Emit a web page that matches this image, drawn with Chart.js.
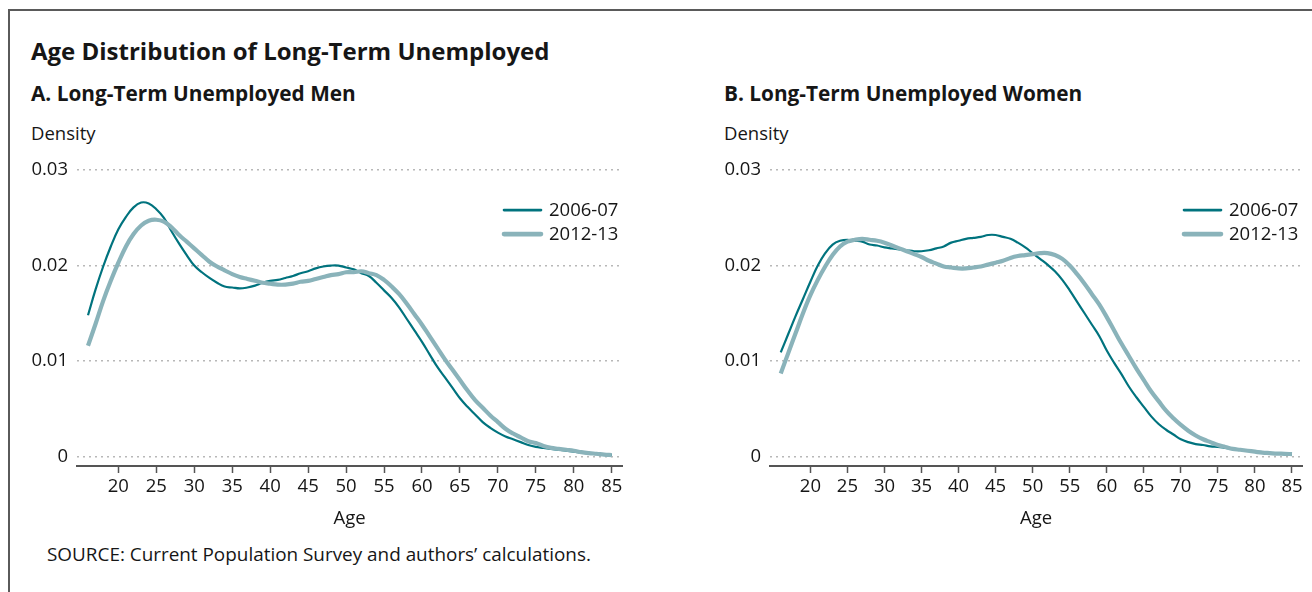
<!DOCTYPE html>
<html>
<head>
<meta charset="utf-8">
<script src="https://cdn.jsdelivr.net/npm/chart.js@4.4.1/dist/chart.umd.min.js"></script>
<style>
  body { margin: 0; background: #fff; font-family: "Open Sans", sans-serif; color: #161616; }
  #page { position: relative; width: 1312px; height: 592px; overflow: hidden; }
  #frame { position: absolute; left: 8px; top: 9px; width: 1400px; height: 700px;
           border-left: 2px solid #5a5a5a; border-top: 2px solid #5a5a5a; }
  .t { position: absolute; white-space: nowrap; line-height: 1; }
  .h1 { font-size: 24px; font-weight: 700; }
  .h2 { font-size: 20.8px; font-weight: 700; }
  .n { font-size: 18.5px; }
  .src { font-size: 18.9px; }
  .box { position: absolute; }
</style>
</head>
<body>
<div id="page">
  <div id="frame"></div>
  <div class="t h1" style="left:31px;top:38.7px">Age Distribution of Long-Term Unemployed</div>
  <div class="t h2" style="left:31px;top:82.5px">A. Long-Term Unemployed Men</div>
  <div class="t h2" style="left:724px;top:82.5px">B. Long-Term Unemployed Women</div>
  <div class="t n" style="left:31px;top:123.6px">Density</div>
  <div class="t n" style="left:724px;top:123.6px">Density</div>
  <div class="t src" style="left:47px;top:545.2px">SOURCE: Current Population Survey and authors’ calculations.</div>
  <div class="box" style="left:0;top:150px;width:640px;height:400px"><canvas id="men"></canvas></div>
  <div class="box" style="left:693px;top:150px;width:619px;height:400px"><canvas id="women"></canvas></div>
</div>
<script>
// ages 16..85, one density value per year of age
var ages = [16, 17, 18, 19, 20, 21, 22, 23, 24, 25, 26, 27, 28, 29, 30, 31, 32, 33, 34, 35,
            36, 37, 38, 39, 40, 41, 42, 43, 44, 45, 46, 47, 48, 49, 50, 51, 52, 53, 54, 55,
            56, 57, 58, 59, 60, 61, 62, 63, 64, 65, 66, 67, 68, 69, 70, 71, 72, 73, 74, 75,
            76, 77, 78, 79, 80, 81, 82, 83, 84, 85];

var menOld = [0.0148, 0.0175, 0.0199, 0.0220, 0.0238, 0.0251, 0.0261, 0.0266, 0.0265, 0.0259,
              0.0250, 0.0236, 0.0223, 0.0211, 0.0200, 0.0193, 0.0187, 0.0182, 0.0178, 0.0177,
              0.0176, 0.0177, 0.0179, 0.0182, 0.0184, 0.0185, 0.0187, 0.0189, 0.0192, 0.0194,
              0.0197, 0.0199, 0.0200, 0.0200, 0.0198, 0.0196, 0.0192, 0.0189, 0.0182, 0.0174,
              0.0166, 0.0156, 0.0144, 0.0132, 0.0120, 0.0107, 0.0094, 0.0083, 0.0072, 0.0061,
              0.0052, 0.0044, 0.0036, 0.0030, 0.0025, 0.0021, 0.0018, 0.0015, 0.0012, 0.0010,
              0.0009, 0.0008, 0.0007, 0.0006, 0.0005, 0.0004, 0.0003, 0.00025, 0.0002, 0.00017];

var menNew = [0.0116, 0.0139, 0.0163, 0.0184, 0.0203, 0.0220, 0.0233, 0.0242, 0.0247, 0.0248,
              0.0246, 0.0240, 0.0232, 0.0225, 0.0218, 0.0211, 0.0204, 0.0199, 0.0195, 0.0191,
              0.0188, 0.0186, 0.0184, 0.0182, 0.0181, 0.0180, 0.0180, 0.0181, 0.0183, 0.0184,
              0.0186, 0.0188, 0.0190, 0.0191, 0.0193, 0.0193, 0.0194, 0.0192, 0.0190, 0.0185,
              0.0178, 0.0170, 0.0160, 0.0149, 0.0138, 0.0126, 0.0114, 0.0102, 0.0091, 0.0080,
              0.0069, 0.0059, 0.0051, 0.0043, 0.0036, 0.0029, 0.0024, 0.0020, 0.0016, 0.0014,
              0.0011, 0.0009, 0.0008, 0.0007, 0.0006, 0.00045, 0.00035, 0.00028, 0.0002, 0.00014];

var womenOld = [0.0109, 0.0128, 0.0147, 0.0165, 0.0183, 0.0200, 0.0213, 0.0222, 0.0226, 0.0227,
                0.0226, 0.0225, 0.0222, 0.0221, 0.0219, 0.0218, 0.0217, 0.0216, 0.0215, 0.0215,
                0.0216, 0.0218, 0.0220, 0.0224, 0.0226, 0.0228, 0.0229, 0.0230, 0.0232, 0.0232,
                0.0230, 0.0228, 0.0224, 0.0219, 0.0213, 0.0207, 0.0201, 0.0194, 0.0185, 0.0174,
                0.0162, 0.0150, 0.0138, 0.0126, 0.0111, 0.0098, 0.0086, 0.0073, 0.0062, 0.0052,
                0.0042, 0.0034, 0.0028, 0.0023, 0.0018, 0.0015, 0.0013, 0.0012, 0.00105, 0.0010,
                0.0009, 0.0008, 0.0007, 0.0006, 0.0005, 0.00045, 0.00038, 0.0003, 0.00025, 0.0002];

var womenNew = [0.0087, 0.0108, 0.0129, 0.0150, 0.0169, 0.0185, 0.0199, 0.0211, 0.0220, 0.0225,
                0.0227, 0.0228, 0.0227, 0.0226, 0.0224, 0.0221, 0.0218, 0.0215, 0.0212, 0.0209,
                0.0205, 0.0202, 0.0199, 0.0198, 0.0197, 0.0197, 0.0198, 0.0199, 0.0201, 0.0203,
                0.0205, 0.0208, 0.0210, 0.0211, 0.0212, 0.0213, 0.0213, 0.0211, 0.0207, 0.0200,
                0.0191, 0.0181, 0.0170, 0.0159, 0.0146, 0.0132, 0.0118, 0.0105, 0.0092, 0.0080,
                0.0068, 0.0058, 0.0048, 0.0040, 0.0033, 0.0027, 0.0022, 0.0018, 0.0015, 0.0012,
                0.0010, 0.0008, 0.0007, 0.0006, 0.0005, 0.0004, 0.00035, 0.0003, 0.00028, 0.00024];

var seriesLabels = ['2006-07', '2012-13'];
var xTicks = [20, 25, 30, 35, 40, 45, 50, 55, 60, 65, 70, 75, 80, 85];
var yTicks = [0, 0.01, 0.02, 0.03];

var DARK = '#00737e';
var LIGHT = '#8ab3ba';
var FONT = { family: '"Open Sans", sans-serif', size: 18.5 };
var INK = '#161616';
var AXIS = '#555555';

// legend drawn inside the plot, top right, two stacked rows
var insideLegend = {
  id: 'insideLegend',
  afterDatasetsDraw: function (chart) {
    var ctx = chart.ctx, a = chart.chartArea;
    ctx.save();
    ctx.font = FONT.size + 'px ' + FONT.family;
    ctx.textBaseline = 'middle';
    ctx.textAlign = 'left';
    ctx.lineCap = 'round';
    chart.data.datasets.forEach(function (ds, i) {
      var y = a.top + 40 + i * 24;
      ctx.strokeStyle = ds.borderColor;
      ctx.lineWidth = ds.borderWidth + 0.4;
      ctx.beginPath();
      ctx.moveTo(a.right - 118, y);
      ctx.lineTo(a.right - 81, y);
      ctx.stroke();
      ctx.fillStyle = INK;
      ctx.fillText(ds.label, a.right - 73, y + 1);
    });
    ctx.restore();
  }
};

function toPoints(vals) {
  return ages.map(function (a, i) { return { x: a, y: vals[i] }; });
}

function makeChart(id, older, newer, padTop, padRight) {
  return new Chart(document.getElementById(id), {
    type: 'line',
    data: {
      datasets: [
        { label: seriesLabels[0], data: toPoints(older), borderColor: DARK, borderWidth: 2.2,
          pointRadius: 0, tension: 0.4, order: 1 },
        { label: seriesLabels[1], data: toPoints(newer), borderColor: LIGHT, borderWidth: 4.2,
          pointRadius: 0, tension: 0.4, order: 0 }
      ]
    },
    options: {
      responsive: true,
      maintainAspectRatio: false,
      animation: false,
      layout: { padding: { top: padTop, right: padRight, left: 0, bottom: 0 } },
      plugins: { legend: { display: false }, tooltip: { enabled: false } },
      scales: {
        x: {
          type: 'linear', min: 14.55, max: 86.35,
          afterBuildTicks: function (s) { s.ticks = xTicks.map(function (v) { return { value: v }; }); },
          afterFit: function (s) { s.height = 84; },
          grid: { drawOnChartArea: false, drawTicks: true, tickLength: 7, tickColor: AXIS, tickWidth: 1.5 },
          border: { display: true, color: AXIS, width: 2 },
          ticks: { font: FONT, color: INK, padding: 3, maxRotation: 0, autoSkip: false },
          title: { display: true, text: 'Age', font: FONT, color: INK, padding: 20 }
        },
        y: {
          min: -0.001, max: 0.03,
          afterBuildTicks: function (s) { s.ticks = yTicks.map(function (v) { return { value: v }; }); },
          afterFit: function (s) { s.width = 77; },
          grid: { color: '#b8b8b8', lineWidth: 1.4, drawTicks: false },
          border: { display: false, dash: [2, 4] },
          ticks: {
            font: FONT, color: INK, padding: 9,
            callback: function (v) { return v === 0 ? '0' : v.toFixed(2); }
          }
        }
      }
    },
    plugins: [insideLegend]
  });
}

makeChart('men', menOld, menNew, 19, 18);
makeChart('women', womenOld, womenNew, 20, 10);
</script>
</body>
</html>
